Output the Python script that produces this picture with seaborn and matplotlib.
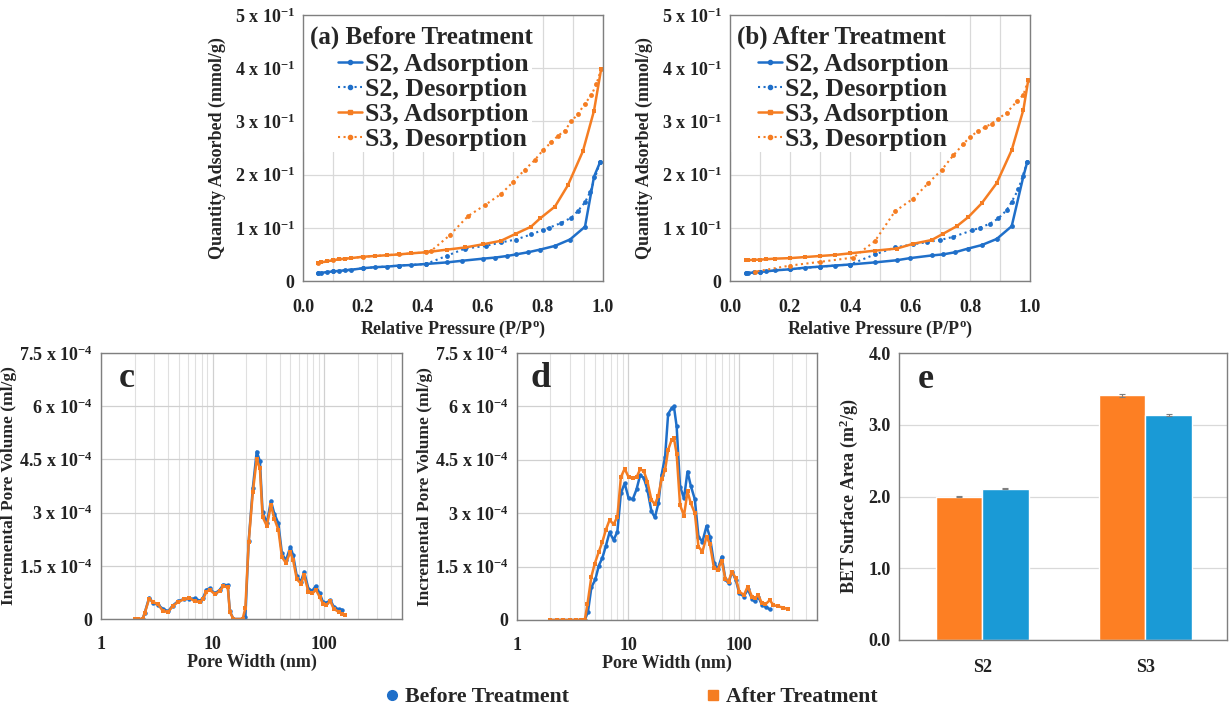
import matplotlib
matplotlib.use("Agg")
import matplotlib.pyplot as plt
import matplotlib.ticker as mticker
from matplotlib.lines import Line2D
from matplotlib.patches import Rectangle
import numpy as np
import pandas as pd
import seaborn as sns

# --- colours ---
BLUE = '#1f6fc9'
ORANGE = '#f57d22'
BAR_BLUE = '#1a9ad6'
BAR_ORANGE = '#fd7f23'

# --- (a) isotherms before treatment ---
a_s2_ads_x = [0.05, 0.06, 0.08, 0.10, 0.12, 0.14, 0.16, 0.20, 0.24, 0.28, 0.32, 0.36, 0.41, 0.48, 0.53, 0.60, 0.64, 0.68, 0.71, 0.75, 0.79, 0.84, 0.89, 0.94, 0.97, 0.99]
a_s2_ads_y = [0.0144, 0.0152, 0.0168, 0.018, 0.019, 0.020, 0.021, 0.024, 0.026, 0.027, 0.029, 0.030, 0.032, 0.035, 0.038, 0.042, 0.044, 0.047, 0.050, 0.054, 0.059, 0.066, 0.078, 0.102, 0.196, 0.223]
a_s2_des_x = [0.99, 0.958, 0.94, 0.917, 0.894, 0.86, 0.82, 0.80, 0.76, 0.71, 0.66, 0.61, 0.54, 0.48, 0.41, 0.32, 0.20, 0.10, 0.05]
a_s2_des_y = [0.223, 0.168, 0.148, 0.132, 0.119, 0.109, 0.100, 0.096, 0.0875, 0.078, 0.0725, 0.066, 0.061, 0.0475, 0.032, 0.029, 0.024, 0.018, 0.0144]
a_s3_ads_x = [0.05, 0.06, 0.08, 0.10, 0.12, 0.14, 0.16, 0.20, 0.24, 0.28, 0.32, 0.36, 0.41, 0.48, 0.54, 0.60, 0.66, 0.71, 0.76, 0.79, 0.84, 0.883, 0.933, 0.97, 0.994]
a_s3_ads_y = [0.033, 0.035, 0.037, 0.039, 0.041, 0.042, 0.043, 0.0456, 0.047, 0.0485, 0.050, 0.052, 0.054, 0.059, 0.063, 0.069, 0.0756, 0.089, 0.102, 0.1175, 0.140, 0.180, 0.244, 0.320, 0.399]
a_s3_des_x = [0.994, 0.978, 0.961, 0.939, 0.917, 0.894, 0.872, 0.85, 0.828, 0.80, 0.772, 0.739, 0.70, 0.661, 0.606, 0.55, 0.489, 0.428, 0.41, 0.32, 0.20, 0.10, 0.05]
a_s3_des_y = [0.399, 0.370, 0.349, 0.333, 0.314, 0.300, 0.282, 0.273, 0.261, 0.246, 0.227, 0.209, 0.186, 0.164, 0.1425, 0.122, 0.086, 0.057, 0.054, 0.050, 0.0456, 0.039, 0.033]

# --- (b) isotherms after treatment ---
b_s2_ads_x = [0.053, 0.06, 0.08, 0.10, 0.12, 0.15, 0.20, 0.25, 0.30, 0.35, 0.40, 0.483, 0.556, 0.60, 0.672, 0.71, 0.75, 0.794, 0.839, 0.889, 0.939, 0.978, 0.991]
b_s2_ads_y = [0.0144, 0.015, 0.016, 0.017, 0.018, 0.020, 0.022, 0.025, 0.027, 0.029, 0.031, 0.035, 0.039, 0.043, 0.048, 0.050, 0.054, 0.061, 0.0675, 0.079, 0.103, 0.197, 0.224]
b_s2_des_x = [0.991, 0.961, 0.939, 0.922, 0.894, 0.867, 0.833, 0.806, 0.744, 0.70, 0.656, 0.611, 0.55, 0.483, 0.40, 0.30, 0.20, 0.10, 0.053]
b_s2_des_y = [0.224, 0.172, 0.149, 0.133, 0.1175, 0.108, 0.100, 0.095, 0.083, 0.077, 0.073, 0.069, 0.063, 0.050, 0.031, 0.027, 0.022, 0.017, 0.0144]
b_s3_ads_x = [0.053, 0.06, 0.08, 0.10, 0.12, 0.15, 0.20, 0.25, 0.30, 0.35, 0.40, 0.483, 0.556, 0.611, 0.672, 0.711, 0.756, 0.794, 0.839, 0.889, 0.939, 0.978, 0.994]
b_s3_ads_y = [0.039, 0.039, 0.040, 0.040, 0.041, 0.042, 0.043, 0.045, 0.047, 0.049, 0.052, 0.057, 0.061, 0.070, 0.077, 0.089, 0.103, 0.120, 0.146, 0.184, 0.246, 0.322, 0.377]
b_s3_des_x = [0.994, 0.978, 0.956, 0.922, 0.894, 0.872, 0.85, 0.828, 0.80, 0.778, 0.744, 0.706, 0.661, 0.611, 0.55, 0.483, 0.411, 0.30, 0.20, 0.083]
b_s3_des_y = [0.377, 0.350, 0.3375, 0.316, 0.305, 0.296, 0.289, 0.282, 0.271, 0.2575, 0.236, 0.209, 0.184, 0.155, 0.131, 0.075, 0.044, 0.036, 0.029, 0.0175]

# --- (c) pore size distribution, sample set 1 ---
c_before_w = [2.0, 2.15, 2.36, 2.47, 2.7, 2.93, 3.25, 3.6, 4.0, 4.4, 4.9, 5.6, 6.2, 6.9, 7.7, 8.2, 8.8, 9.4, 10.5, 11.6, 12.5, 13.7, 14.3, 15.4, 18.6, 19.7, 21.1, 23.0, 24.9, 26.6, 28.1, 30.7, 33.4, 35.8, 38.9, 41.9, 45.5, 49.9, 52.8, 57.0, 62.0, 66.3, 72.5, 78.6, 84.2, 91.5, 98.0, 104, 114, 122, 135, 145]
c_before_v = [0, 0, 0, 0.18, 0.6, 0.45, 0.4, 0.28, 0.22, 0.38, 0.5, 0.57, 0.57, 0.58, 0.52, 0.58, 0.82, 0.86, 0.72, 0.82, 0.97, 0.95, 0.22, 0, 0, 0.05, 2.2, 3.7, 4.72, 4.45, 3.02, 2.7, 3.33, 2.97, 2.7, 1.85, 1.65, 2.03, 1.8, 1.2, 1.05, 1.33, 0.85, 0.8, 0.93, 0.72, 0.47, 0.45, 0.53, 0.35, 0.27, 0.26]
c_after_w = [2.0, 2.15, 2.36, 2.47, 2.7, 2.93, 3.25, 3.6, 4.0, 4.4, 4.9, 5.6, 6.2, 6.9, 7.7, 8.2, 8.8, 9.4, 10.5, 11.6, 12.5, 13.7, 14.3, 15.4, 18.6, 19.7, 21.1, 23.0, 24.9, 26.6, 28.1, 30.7, 33.4, 35.8, 38.9, 41.9, 45.5, 49.9, 52.8, 57.0, 62.0, 66.3, 72.5, 78.6, 84.2, 91.5, 98.0, 104, 114, 122, 135, 145, 155]
c_after_v = [0, 0, 0, 0.17, 0.57, 0.48, 0.41, 0.22, 0.2, 0.36, 0.48, 0.56, 0.6, 0.5, 0.48, 0.55, 0.76, 0.83, 0.7, 0.79, 0.92, 0.9, 0.2, 0, 0, 0.31, 2.17, 3.59, 4.5, 4.25, 2.88, 2.62, 3.21, 2.83, 2.52, 1.75, 1.58, 1.89, 1.66, 1.12, 1.0, 1.23, 0.76, 0.72, 0.83, 0.62, 0.43, 0.39, 0.5, 0.29, 0.2, 0.15, 0.1]

# --- (d) pore size distribution, sample set 2 ---
d_before_w = [1.97, 2.3, 2.6, 3.0, 3.4, 3.8, 4.07, 4.35, 4.67, 5.07, 5.45, 5.87, 6.3, 6.8, 7.4, 8.0, 8.6, 9.3, 10.1, 11.0, 11.9, 12.8, 13.8, 14.9, 16.2, 17.4, 18.7, 20.0, 21.5, 22.9, 24.6, 25.8, 27.3, 29.3, 31.8, 34.2, 36.6, 39.8, 42.9, 46.6, 50.7, 54.3, 59.1, 63.9, 69.5, 75, 80, 86, 93, 100, 110, 119, 130, 138, 148, 160, 175, 188]
d_before_v = [0, 0, 0, 0, 0, 0, 0, 0.23, 0.92, 1.14, 1.53, 1.75, 2.08, 2.46, 2.25, 2.48, 3.56, 3.84, 3.42, 3.39, 3.67, 4.06, 4.0, 3.66, 3.05, 2.88, 3.28, 4.08, 4.59, 5.79, 5.95, 6.0, 5.44, 3.75, 3.42, 4.17, 3.77, 3.39, 2.34, 2.2, 2.64, 2.34, 1.61, 1.42, 1.78, 1.14, 1.03, 1.36, 1.12, 0.75, 0.66, 0.86, 0.6, 0.52, 0.66, 0.42, 0.36, 0.3]
d_after_w = [1.97, 2.3, 2.6, 3.0, 3.4, 3.8, 4.07, 4.3, 4.67, 5.0, 5.45, 5.87, 6.3, 6.8, 7.4, 8.0, 8.6, 9.3, 10.1, 11.0, 11.9, 12.8, 13.8, 14.9, 16.2, 17.4, 18.7, 20.0, 21.5, 22.9, 24.6, 25.8, 27.3, 29.3, 31.8, 34.2, 36.6, 39.8, 42.9, 46.6, 50.7, 54.3, 59.1, 63.9, 69.5, 75, 80, 86, 93, 100, 110, 119, 130, 138, 148, 160, 172, 188, 202, 225, 248, 275]
d_after_v = [0, 0, 0, 0, 0, 0, 0, 0.44, 1.22, 1.58, 1.92, 2.2, 2.53, 2.81, 2.69, 2.9, 4.01, 4.25, 4.01, 3.98, 4.01, 4.23, 4.19, 3.89, 3.37, 3.25, 3.49, 3.96, 4.22, 4.78, 5.06, 5.11, 4.67, 3.23, 2.93, 3.61, 3.28, 3.0, 2.06, 1.92, 2.34, 2.14, 1.47, 1.41, 1.66, 1.14, 1.08, 1.36, 1.17, 0.8, 0.7, 0.94, 0.66, 0.61, 0.7, 0.47, 0.44, 0.56, 0.42, 0.38, 0.35, 0.3]

# --- (e) BET surface area ---
e_samples = ['S2', 'S3']
e_after = [2.0, 3.41]
e_before = [2.11, 3.13]
e_after_err = [0.01, 0.02]
e_before_err = [0.01, 0.015]

# --- style ---
sns.set_theme(style='white')
plt.rcParams['font.family'] = ['Liberation Serif', 'DejaVu Serif']
plt.rcParams['font.weight'] = 'bold'
plt.rcParams['axes.labelweight'] = 'bold'
plt.rcParams['mathtext.fontset'] = 'custom'
plt.rcParams['mathtext.rm'] = 'Liberation Serif:bold'
plt.rcParams['mathtext.bf'] = 'Liberation Serif:bold'
plt.rcParams['mathtext.it'] = 'Liberation Serif:bold'
plt.rcParams['mathtext.default'] = 'bf'

W, H = 1229, 709
fig = plt.figure(figsize=(W / 100, H / 100), dpi=100)


def px_axes(left, top, right, bottom):
    return fig.add_axes([left / W, 1 - bottom / H, (right - left) / W, (bottom - top) / H])


def style_box(ax, xpad=6):
    for s in ax.spines.values():
        s.set_color('#7f7f7f')
        s.set_linewidth(1.0)
    ax.tick_params(axis='both', which='both', length=0, labelsize=13, pad=6, colors='#222222')
    ax.tick_params(axis='x', pad=xpad)
    for lab in ax.get_xticklabels() + ax.get_yticklabels():
        lab.set_fontweight('bold')


def sci_fmt(exp):
    def f(v, pos):
        if abs(v) < 1e-12:
            return '0'
        m = v / 10 ** exp
        s = ('%.1f' % m).rstrip('0').rstrip('.')
        return s + ' x 10$^{%d}$' % exp
    return mticker.FuncFormatter(f)


def isotherm(ax, series, title, box_w, handle_x):
    for x, y, col, ls, mk in series:
        sns.lineplot(x=x, y=y, ax=ax, color=col, linestyle=ls, marker=mk, markersize=3.5,
                     markeredgewidth=0, linewidth=1.8 if ls == '-' else 1.5,
                     estimator=None, sort=False, legend=False)
    ax.set_xlim(0, 1)
    ax.set_ylim(0, 0.5)
    ax.xaxis.set_major_locator(mticker.MultipleLocator(0.2))
    ax.xaxis.set_minor_locator(mticker.MultipleLocator(0.1))
    ax.yaxis.set_major_locator(mticker.MultipleLocator(0.1))
    ax.xaxis.set_major_formatter(mticker.FormatStrFormatter('%.1f'))
    ax.yaxis.set_major_formatter(sci_fmt(-1))
    ax.grid(True, which='both', color='#d9d9d9', linewidth=0.9)
    ax.set_axisbelow(True)
    # white panel behind title and legend (hides the grid there)
    ax.add_patch(Rectangle((0, 0.485), box_w, 0.515, transform=ax.transAxes,
                           facecolor='white', edgecolor='none', zorder=1))
    ax.set_xlabel('Relative Pressure (P/P$^{o}$)', fontsize=13, labelpad=2)
    ax.set_ylabel('Quantity Adsorbed (mmol/g)', fontsize=13, labelpad=6)
    ax.text(0.023, 0.918, title, transform=ax.transAxes, fontsize=18, fontweight='bold',
            va='center', ha='left', zorder=3)
    handles = [
        Line2D([], [], color=BLUE, ls='-', marker='o', ms=3, lw=1.8),
        Line2D([], [], color=BLUE, ls=':', marker='o', ms=3, lw=1.5),
        Line2D([], [], color=ORANGE, ls='-', marker='s', ms=3, lw=1.8),
        Line2D([], [], color=ORANGE, ls=':', marker='o', ms=3, lw=1.5),
    ]
    labels = ['S2, Adsorption', 'S2, Desorption', 'S3, Adsorption', 'S3, Desorption']
    ax.legend(handles, labels, loc='upper left', bbox_to_anchor=(handle_x, (281 - 53) / 266),
              frameon=False, prop={'size': 18.5, 'weight': 'bold'}, handlelength=0.95,
              handletextpad=0.1, labelspacing=0.08, borderpad=0, borderaxespad=0)
    style_box(ax, xpad=13)


def psd(ax, before, after, letter, letter_x):
    sns.lineplot(x=before[0], y=np.array(before[1]) * 1e-4, ax=ax, color=BLUE, marker='o',
                 markersize=3.2, markeredgewidth=0, linewidth=1.8, estimator=None, sort=False, legend=False)
    sns.lineplot(x=after[0], y=np.array(after[1]) * 1e-4, ax=ax, color=ORANGE, marker='s',
                 markersize=3.2, markeredgewidth=0, linewidth=1.8, estimator=None, sort=False, legend=False)
    ax.set_xscale('log')
    ax.set_xlim(1, 500)
    ax.set_ylim(0, 7.5e-4)
    ax.yaxis.set_major_locator(mticker.MultipleLocator(1.5e-4))
    ax.yaxis.set_major_formatter(sci_fmt(-4))
    ax.xaxis.set_major_locator(mticker.FixedLocator([1, 10, 100]))
    ax.xaxis.set_major_formatter(mticker.FuncFormatter(lambda v, p: '%d' % v))
    ax.xaxis.set_minor_locator(mticker.LogLocator(base=10, subs=np.arange(2, 10)))
    ax.xaxis.set_minor_formatter(mticker.NullFormatter())
    ax.grid(True, which='major', color='#d0d0d0', linewidth=0.9)
    ax.grid(True, which='minor', axis='x', color='#e0e0e0', linewidth=0.8)
    ax.set_axisbelow(True)
    ax.set_xlabel('Pore Width (nm)', fontsize=13, labelpad=1)
    ax.set_ylabel('Incremental Pore Volume (ml/g)', fontsize=12.5, labelpad=1)
    ax.text(letter_x, 0.965, letter, transform=ax.transAxes, fontsize=26, fontweight='bold', va='top')
    style_box(ax, xpad=12)


ax_a = px_axes(303, 15, 603, 281)
isotherm(ax_a, [(a_s2_ads_x, a_s2_ads_y, BLUE, '-', 'o'),
                (a_s2_des_x, a_s2_des_y, BLUE, ':', 'o'),
                (a_s3_ads_x, a_s3_ads_y, ORANGE, '-', 's'),
                (a_s3_des_x, a_s3_des_y, ORANGE, ':', 'o')], '(a) Before Treatment',
         box_w=0.763, handle_x=35 / 300)

ax_b = px_axes(730, 15, 1030, 281)
isotherm(ax_b, [(b_s2_ads_x, b_s2_ads_y, BLUE, '-', 'o'),
                (b_s2_des_x, b_s2_des_y, BLUE, ':', 'o'),
                (b_s3_ads_x, b_s3_ads_y, ORANGE, '-', 's'),
                (b_s3_des_x, b_s3_des_y, ORANGE, ':', 'o')], '(b) After Treatment',
         box_w=0.717, handle_x=28 / 300)

ax_c = px_axes(101, 353, 402, 619)
psd(ax_c, (c_before_w, c_before_v), (c_after_w, c_after_v), 'c', 0.06)

ax_d = px_axes(517, 353, 817, 620)
psd(ax_d, (d_before_w, d_before_v), (d_after_w, d_after_v), 'd', 0.045)

# --- (e) bar chart ---
ax_e = px_axes(899, 353, 1227, 640)
bet = pd.DataFrame({
    'Sample': e_samples * 2,
    'Treatment': ['After'] * len(e_samples) + ['Before'] * len(e_samples),
    'Area': e_after + e_before,
})
sns.barplot(data=bet, x='Sample', y='Area', hue='Treatment', hue_order=['After', 'Before'],
            palette={'After': BAR_ORANGE, 'Before': BAR_BLUE}, width=0.57, errorbar=None,
            saturation=1, ax=ax_e, legend=False)
# error bars on the bars seaborn drew (patches are ordered by hue then sample)
errs = e_after_err + e_before_err
for p, e in zip(ax_e.patches, errs):
    ax_e.errorbar(p.get_x() + p.get_width() / 2, p.get_height(), yerr=e, color='#7f7f7f',
                  capsize=2, elinewidth=0.8, capthick=0.8)
ax_e.set_xlim(-0.51, 1.5)
ax_e.set_ylim(0, 4)
ax_e.yaxis.set_major_locator(mticker.MultipleLocator(1.0))
ax_e.yaxis.set_major_formatter(mticker.FormatStrFormatter('%.1f'))
ax_e.grid(True, axis='y', color='#d9d9d9', linewidth=0.9)
ax_e.set_axisbelow(True)
ax_e.set_xlabel('')
ax_e.set_ylabel('BET Surface Area (m$^{2}$/g)', fontsize=13, labelpad=6)
ax_e.text(0.058, 0.965, 'e', transform=ax_e.transAxes, fontsize=26, fontweight='bold', va='top')
style_box(ax_e, xpad=14)

# --- shared legend ---
fig_handles = [Line2D([], [], color=BLUE, marker='o', ls='none', ms=7),
               Line2D([], [], color=ORANGE, marker='s', ls='none', ms=7)]
fig.legend(fig_handles, ['Before Treatment', 'After Treatment'], loc='center',
           bbox_to_anchor=(629 / W, 1 - 697 / H), ncol=2, frameon=False,
           prop={'size': 15.7, 'weight': 'bold'}, columnspacing=6.1, handletextpad=0.1,
           handlelength=1.0)

fig.savefig('out.png', dpi=100, facecolor='white')
